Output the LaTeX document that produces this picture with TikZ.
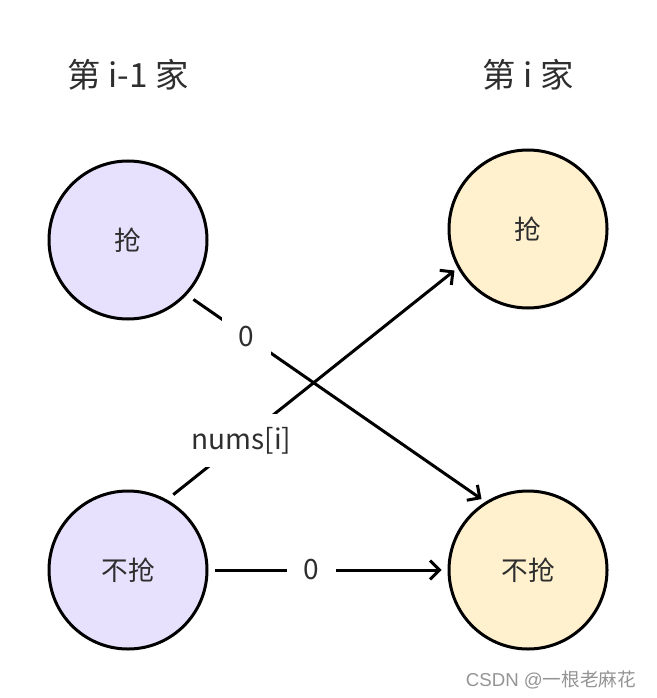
\documentclass[tikz,border=0pt]{standalone}
\usepackage{fontspec}
\setmainfont{Noto Sans CJK SC}
\newfontfamily\wmfont{Liberation Sans}
\newfontfamily\wmcjk{Noto Sans CJK SC}
\usetikzlibrary{arrows.meta}
\definecolor{lav}{HTML}{E7E1FE}
\definecolor{yel}{HTML}{FFF1CE}
\definecolor{txt}{HTML}{2E2E2E}
\begin{document}
\begin{tikzpicture}[x=0.75pt,y=-0.75pt,
  house/.style={circle,draw=black,line width=2.25pt,minimum size=118.5pt,inner sep=0pt,text=txt,font=\fontsize{20}{24}\selectfont},
  title/.style={text=txt,font=\fontsize{25}{30}\selectfont},
  conn/.style={line width=2.25pt,-{Straight Barb[length=7pt,width=14pt,line width=2.25pt]}},
  lbl/.style={fill=white,text=txt,inner xsep=12.5pt,inner ysep=10pt,font=\fontsize{21}{25}\selectfont}]
\useasboundingbox (0,0) rectangle (656,698);
\node[title] (t1) at (128,75) {第 i-1 家};
\node[title] (t2) at (528,75) {第 i 家};
\node[house,fill=lav] (tl) at (128,240) {抢};
\node[house,fill=yel] (tr) at (528,229) {抢};
\node[house,fill=lav] (bl) at (128,570) {不抢};
\node[house,fill=yel] (br) at (528,570) {不抢};
\draw[conn,shorten <=6pt,shorten >=3.5pt] (tl.-43) -- node[lbl,pos=0.2] (l1) {0} (br.122.6);
\draw[conn,shorten <=6pt,shorten >=3pt] (bl.61.4) -- node[lbl,pos=0.256] (l2) {nums[i]} (tr.209.3);
\draw[conn,shorten <=5pt,shorten >=4.5pt] (bl.east) -- node[lbl,pos=0.43] (l3) {0} (br.west);
\node[anchor=east,text=black!42,font=\fontsize{14}{16}\selectfont] (wm) at (641,680) {\wmfont CSDN @\wmcjk 一根老麻花};
\end{tikzpicture}
\end{document}
